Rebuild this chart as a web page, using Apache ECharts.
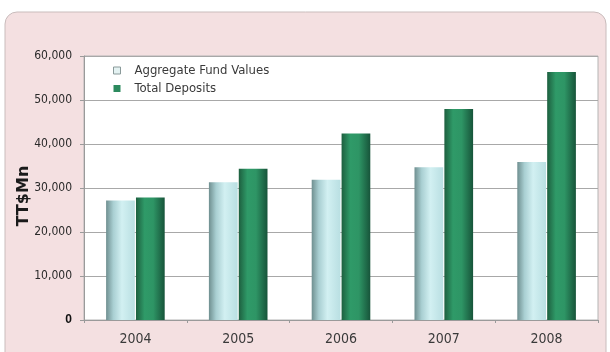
<!DOCTYPE html>
<html>
<head>
<meta charset="utf-8">
<script src="https://cdn.jsdelivr.net/npm/echarts@6/dist/echarts.min.js"></script>
<style>
  html, body { margin: 0; padding: 0; background: #ffffff; }
  #chart { width: 610px; height: 352px; }
</style>
</head>
<body>
<div id="chart"></div>
<script>
// Fund values vs. deposits, TT$ millions
const years = ['2004', '2005', '2006', '2007', '2008'];
const aggregateFundValues = [27150, 31300, 31850, 34700, 35900];
const totalDeposits = [27850, 34350, 42400, 47950, 56350];
const yTicks = { min: 0, max: 60000, interval: 10000 };

const chart = echarts.init(document.getElementById('chart'));

const lightFill = new echarts.graphic.LinearGradient(0, 0, 1, 0, [
  { offset: 0, color: '#6f8f90' },
  { offset: 0.25, color: '#a9cfd2' },
  { offset: 0.55, color: '#d2f0f2' },
  { offset: 1, color: '#b9dfe2' }
]);
const darkFill = new echarts.graphic.LinearGradient(0, 0, 1, 0, [
  { offset: 0, color: '#1d5f3f' },
  { offset: 0.3, color: '#2f9a68' },
  { offset: 0.6, color: '#2e9565' },
  { offset: 1, color: '#17543a' }
]);

const font = '"Liberation Sans Narrow", "DejaVu Sans Condensed", Arial, sans-serif';

chart.setOption({
  animation: false,
  backgroundColor: '#ffffff',
  graphic: [{
    type: 'rect',
    z: -10,
    shape: { x: 5, y: 12, width: 601, height: 400, r: 12 },
    style: { fill: '#f4e0e1', stroke: '#c9bcbc', lineWidth: 1 }
  }],
  grid: {
    left: 84, right: 12, top: 56, bottom: 32,
    show: true, backgroundColor: '#ffffff', borderWidth: 1, borderColor: '#b4b4b4'
  },
  legend: {
    orient: 'vertical',
    left: 108, top: 59,
    itemWidth: 7, itemHeight: 7, itemGap: 5,
    icon: 'rect',
    textStyle: { fontFamily: font, fontSize: 13, color: '#3a3a3a', padding: [0, 0, 0, 9] },
    data: [
      { name: 'Aggregate Fund Values', itemStyle: { color: '#e4f2f2', borderColor: '#8a9a9a', borderWidth: 1 } },
      { name: 'Total Deposits', itemStyle: { color: '#2c8a5e' } }
    ]
  },
  xAxis: {
    type: 'category',
    data: years,
    axisLine: { lineStyle: { color: '#9a9a9a' } },
    axisTick: { show: true, length: 3, lineStyle: { color: '#9a9a9a' } },
    axisLabel: { fontFamily: font, fontSize: 14, color: '#3a3a3a', margin: 12 }
  },
  yAxis: {
    type: 'value',
    min: yTicks.min, max: yTicks.max, interval: yTicks.interval,
    name: 'TT$Mn',
    nameLocation: 'middle',
    nameMoveOverlap: false,
    nameGap: 52,
    nameTextStyle: {
      fontFamily: '"DejaVu Sans", sans-serif', fontSize: 16, fontWeight: 'bold', color: '#1a1a1a',
      padding: [0, 16, 0, 0]
    },
    axisLine: { show: true, lineStyle: { color: '#9a9a9a' } },
    axisTick: { show: true, length: 4, lineStyle: { color: '#9a9a9a' } },
    splitLine: { lineStyle: { color: '#a8a8a8' } },
    axisLabel: {
      fontFamily: font, fontSize: 12, color: '#2a2a2a', margin: 12,
      formatter: v => v === 0 ? '{z|0}' : v.toLocaleString('en-US'),
      rich: { z: { fontFamily: 'Liberation Sans, Arial, sans-serif', fontSize: 12, fontWeight: 'bold', color: '#111' } }
    }
  },
  series: [
    {
      name: 'Aggregate Fund Values', type: 'bar', data: aggregateFundValues,
      barGap: '4%', barCategoryGap: '43%',
      itemStyle: { color: lightFill }
    },
    {
      name: 'Total Deposits', type: 'bar', data: totalDeposits,
      itemStyle: { color: darkFill }
    }
  ]
});
</script>
</body>
</html>
